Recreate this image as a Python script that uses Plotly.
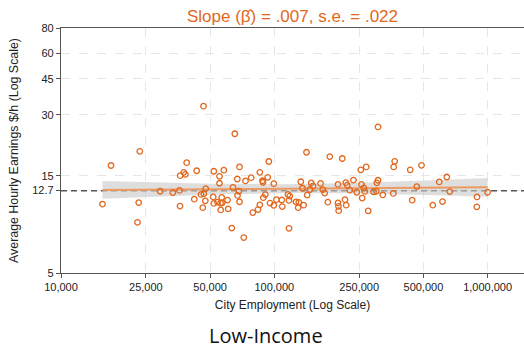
import numpy as np
import plotly.graph_objects as go

# City employment (workers) and average hourly earnings ($/h) for low-income workers
employment = [
    15650, 17160, 22840, 23140, 23410, 29180, 33430, 35940, 36130, 36210,
    37640, 38260, 38840, 42160, 43270, 45330, 46220, 46720, 46570, 47480,
    47680, 51710, 52040, 52040, 54160, 55340, 55340, 56070, 56000, 56680,
    57000, 57980, 60340, 60800, 63200, 64030, 65290, 67080, 67220, 68170,
    68690, 68690, 71950, 73290, 77930, 79290, 83870, 85520, 85520, 88040,
    88510, 90740, 88800, 94240, 93120, 99470, 95470, 99470, 102400, 108400,
    109000, 117200, 115900, 118100, 117200, 126400, 130300, 129400, 137300, 133100,
    135600, 141600, 142600, 147000, 148900, 151800, 164700, 168800, 172300, 178200,
    182000, 198900, 198900, 199900, 200400, 208300, 214500, 216400, 219700, 217300,
    225900, 235100, 243700, 254400, 256300, 258300, 262500, 265600, 269700, 275600,
    291800, 300700, 302400, 306300, 306300, 322600, 361300, 362900, 366800, 433700,
    443200, 465800, 490000, 553400, 593700, 614600, 643800, 665000, 891900, 890000,
    1000000,
]
wage = [
    10.89, 16.88, 8.87, 11.09, 19.81, 12.61, 12.42, 12.73, 10.66, 15.04,
    15.63, 15.28, 17.42, 11.53, 15.90, 12.17, 10.47, 12.24, 33.03, 11.31,
    12.99, 11.83, 15.81, 10.99, 11.14, 14.94, 13.81, 10.21, 11.03, 11.76,
    11.06, 16.01, 11.41, 10.33, 8.31, 13.17, 24.17, 14.49, 12.03, 12.61,
    11.20, 16.60, 7.47, 14.17, 14.71, 9.91, 10.25, 15.63, 10.81, 14.20,
    13.96, 12.15, 11.73, 17.66, 14.77, 13.74, 11.03, 10.75, 11.46, 11.42,
    10.60, 8.29, 12.17, 11.94, 11.37, 11.18, 11.12, 10.47, 10.77, 14.04,
    13.05, 19.61, 12.07, 12.86, 13.85, 13.39, 13.78, 12.84, 12.35, 11.14,
    18.68, 13.62, 11.05, 10.63, 10.12, 18.27, 11.46, 13.90, 13.51, 10.77,
    12.76, 14.30, 12.47, 16.08, 13.62, 11.67, 13.09, 12.59, 16.60, 10.10,
    12.54, 12.61, 13.88, 14.28, 26.12, 12.10, 12.30, 16.60, 17.70, 16.08,
    11.40, 13.29, 16.92, 10.77, 14.01, 11.22, 14.82, 12.56, 11.83, 10.57,
    12.47,
]

# Regression summary (log wage on log employment)
slope = 0.007
slope_se = 0.022
fitted_wage_at_100k = 12.97
fit_se_at_mean = 0.0112   # s.e. of the fitted log10 wage at mean log employment
mean_wage = 12.7

x_ticks = [10000, 25000, 50000, 100000, 250000, 500000, 1000000]
x_tick_text = ["10,000", "25,000", "50,000", "100,000", "250,000", "500,000", "1,000,000"]
y_ticks = [5, 12.7, 15, 30, 45, 60, 80]
y_tick_text = ["5", "12.7", "15", "30", "45", "60", "80"]

ORANGE = "#e2671c"
FIT = "#eb9a62"

# Fitted line in log-log space with its 95% band
lx = np.log10(np.array(employment, dtype=float))
mx = lx.mean()
grid = np.linspace(lx.min(), lx.max(), 120)
fit = np.log10(fitted_wage_at_100k) + slope * (grid - 5.0)
half = 1.96 * np.sqrt(fit_se_at_mean ** 2 + (slope_se * (grid - mx)) ** 2)

x_range = [4.0, 4.0 + 463 / 213.3]
y_range = [np.log10(5), np.log10(80)]

fig = go.Figure()

# Reference line at the mean wage
fig.add_trace(go.Scatter(
    x=[10 ** x_range[0], 10 ** x_range[1]], y=[mean_wage, mean_wage],
    mode="lines", line=dict(color="#555555", width=1.5, dash="6px,4px"),
    hoverinfo="skip", showlegend=False,
))
# Confidence band
fig.add_trace(go.Scatter(
    x=10 ** grid, y=10 ** (fit - half), mode="lines", line=dict(width=0),
    hoverinfo="skip", showlegend=False,
))
fig.add_trace(go.Scatter(
    x=10 ** grid, y=10 ** (fit + half), mode="lines", line=dict(width=0),
    fill="tonexty", fillcolor="rgba(200,200,200,0.6)",
    hoverinfo="skip", showlegend=False,
))
# Fitted line
fig.add_trace(go.Scatter(
    x=10 ** grid, y=10 ** fit, mode="lines",
    line=dict(color=FIT, width=2), hoverinfo="skip", showlegend=False,
))
# Cities
fig.add_trace(go.Scatter(
    x=employment, y=wage, mode="markers",
    marker=dict(symbol="circle-open", size=5.5, color=ORANGE, line=dict(width=1.3, color=ORANGE)),
    showlegend=False,
))

axis_font = dict(family="Liberation Sans, Arial, sans-serif", size=11, color="#222222")
fig.update_xaxes(
    type="log", range=x_range, tickvals=x_ticks, ticktext=x_tick_text,
    tickfont=axis_font, ticks="outside", ticklen=4, tickcolor="#555555",
    showline=True, linecolor="#555555", linewidth=1.3, mirror=True,
    showgrid=True, gridcolor="#e6e6e6", griddash="dash", gridwidth=1,
    zeroline=False,
    title=dict(text="City Employment (Log Scale)", standoff=8,
               font=dict(family="Liberation Sans, Arial, sans-serif", size=12, color="#222222")),
)
fig.update_yaxes(
    type="log", range=y_range, tickvals=y_ticks, ticktext=y_tick_text,
    tickfont=axis_font, ticks="outside", ticklen=4, tickcolor="#555555",
    showline=True, linecolor="#555555", linewidth=1.3,
    showgrid=True, gridcolor="#e6e6e6", griddash="dash", gridwidth=1,
    zeroline=False,
    title=dict(text="Average Hourly Earnings $/h (Log Scale)", standoff=10,
               font=dict(family="Liberation Sans, Arial, sans-serif", size=12.4, color="#222222")),
)

fig.update_layout(
    width=524, height=348,
    margin=dict(l=61, r=0, t=28, b=75, autoexpand=False),
    paper_bgcolor="white", plot_bgcolor="white",
    title=dict(text="Slope (\u03b2\u0302) = .007, s.e. = .022", x=0.5, xref="paper",
               y=1 - 16 / 348, yref="container", yanchor="middle",
               font=dict(family="Liberation Sans, Arial, sans-serif", size=17, color=ORANGE)),
    annotations=[dict(
        text="Low-Income", xref="paper", yref="paper", x=0.443, y=-0.255,
        xanchor="center", yanchor="middle", showarrow=False,
        font=dict(family="Open Sans, sans-serif", size=20, color="#111111"),
    )],
)

fig.write_html("out.html")
